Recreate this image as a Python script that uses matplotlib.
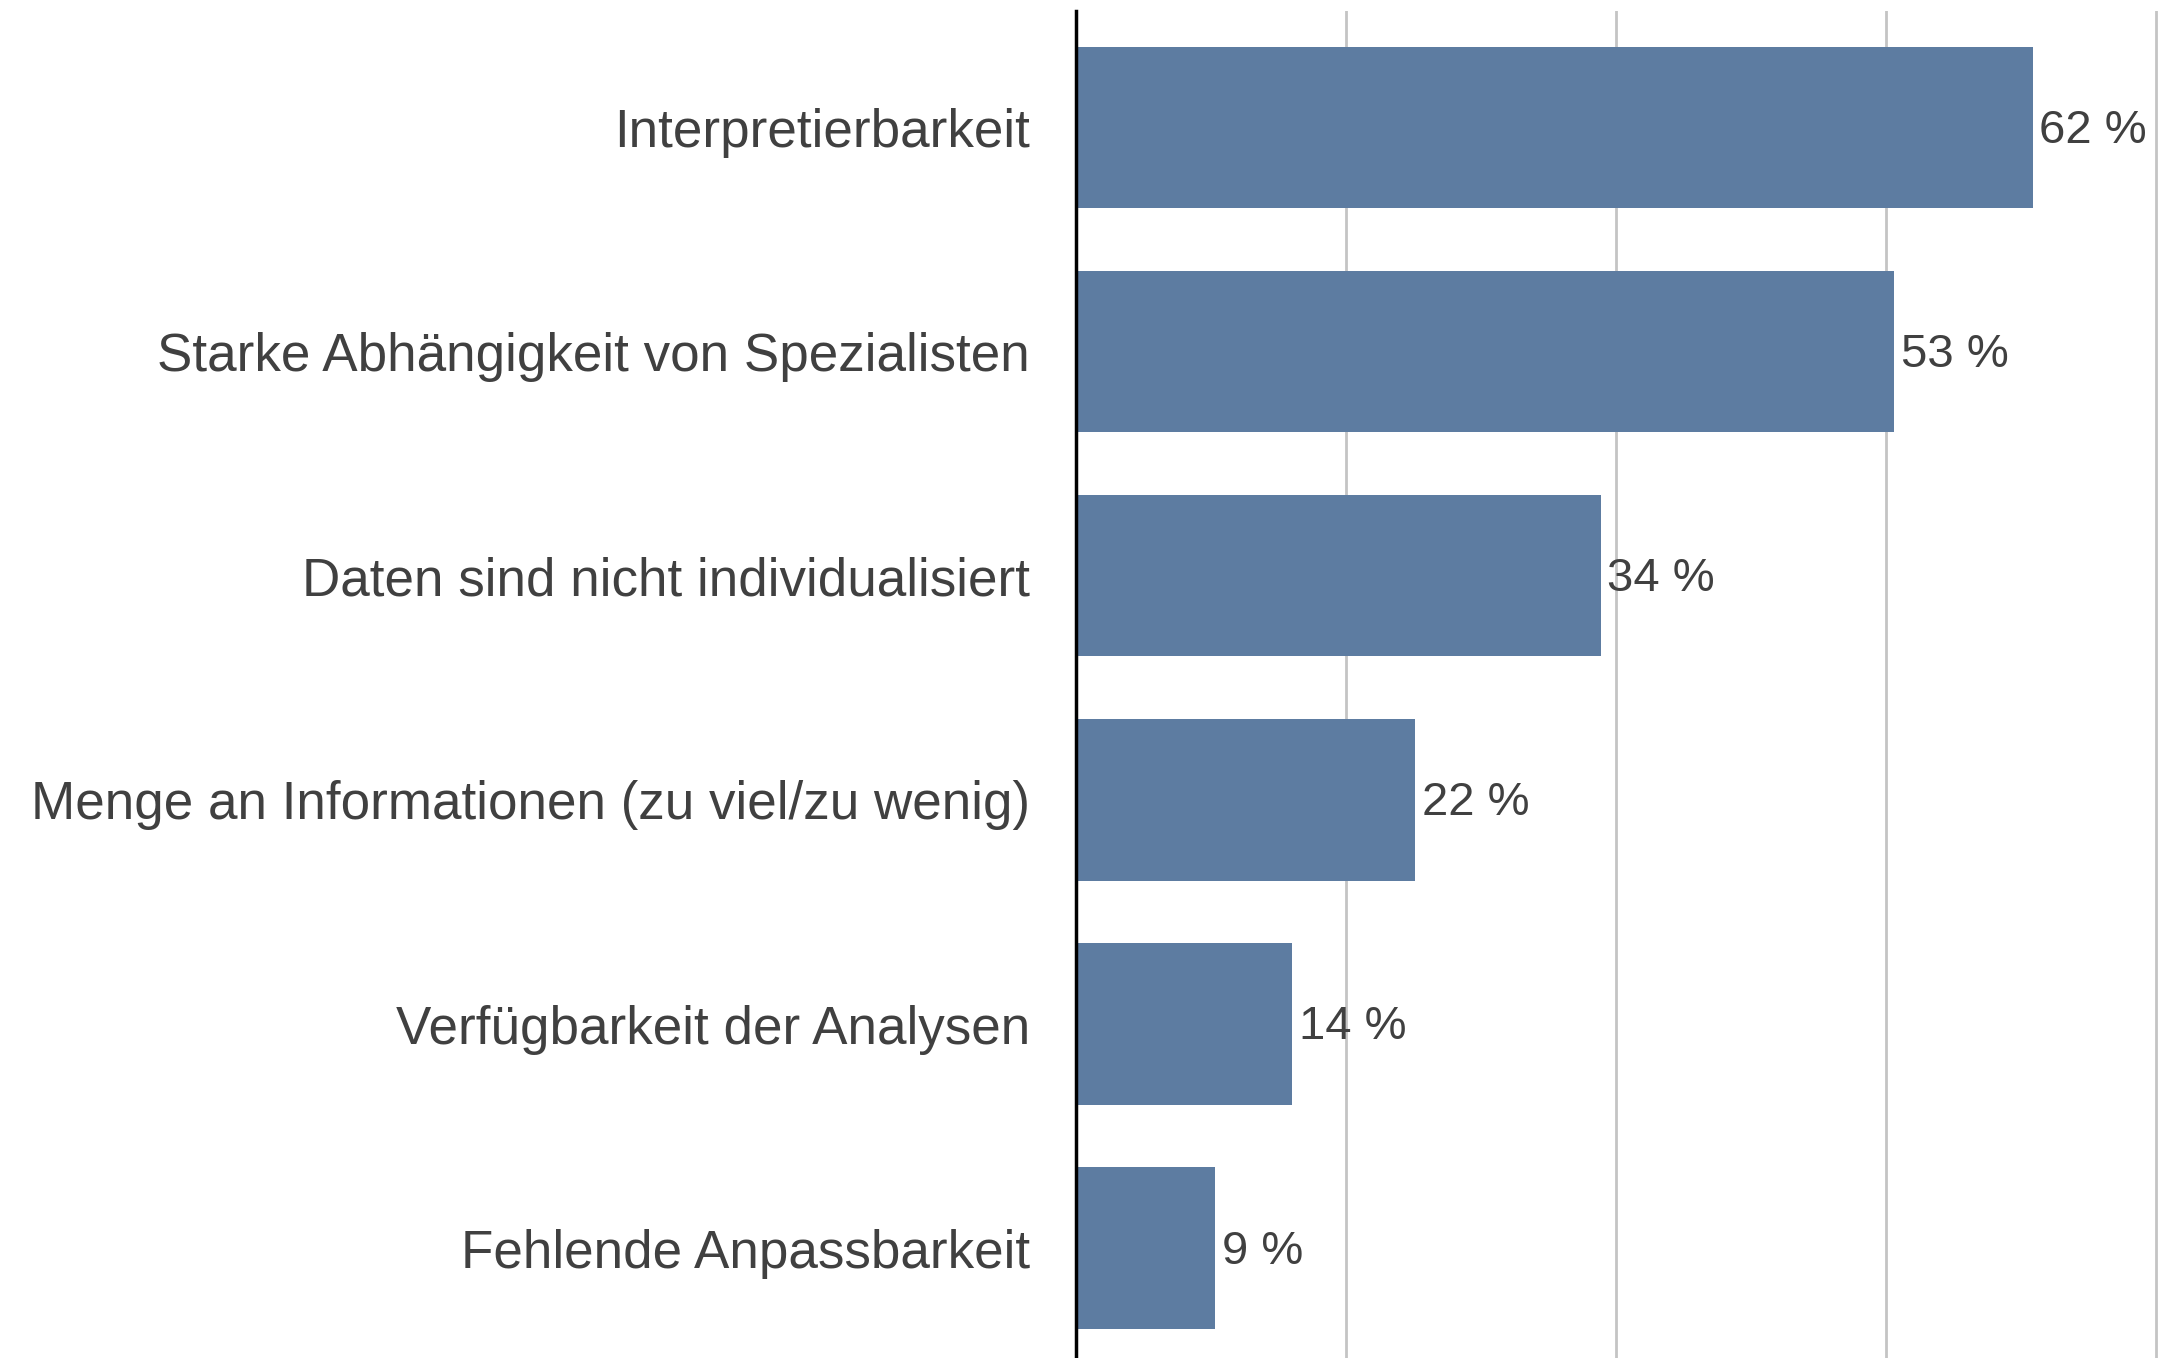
import numpy as np
import matplotlib
matplotlib.use('Agg')
import matplotlib.pyplot as plt

# data, top to bottom
categories = [
    "Interpretierbarkeit",
    "Starke Abhängigkeit von Spezialisten",
    "Daten sind nicht individualisiert",
    "Menge an Informationen (zu viel/zu wenig)",
    "Verfügbarkeit der Analysen",
    "Fehlende Anpassbarkeit",
]
values = [62, 53, 34, 22, 14, 9]
grid_ticks = [17.5, 35, 52.5, 70]

plt.rcParams['font.family'] = ['Liberation Sans', 'DejaVu Sans']
text_color = '#404040'
bar_color = '#5d7ca1'

fig = plt.figure(figsize=(21.59, 13.58), dpi=100)
ax = fig.add_axes([0.4984, 0.0, 0.5016, 0.992])

y = np.arange(len(categories))
ax.barh(y, values, height=0.72, color=bar_color, zorder=3)

# value labels just right of each bar
for yi, v in zip(y, values):
    ax.annotate(f"{v} %", xy=(v, yi), xytext=(5, -2.5), textcoords='offset points',
                va='center', ha='left', fontsize=34, color=text_color, zorder=4)

ax.set_xlim(0, 70.2)
ax.set_ylim(5.49, -0.52)
ax.set_xticks(grid_ticks)
ax.set_xticklabels([])
ax.tick_params(axis='x', length=0)
ax.xaxis.grid(True, color='#c4c4c4', linewidth=2, zorder=0)
ax.set_axisbelow(True)

ax.set_yticks(y)
ax.set_yticklabels(categories, fontsize=38.2, color=text_color)
ax.tick_params(axis='y', length=0, pad=33)

for side in ['top', 'right', 'bottom']:
    ax.spines[side].set_visible(False)
ax.spines['left'].set_color('black')
ax.spines['left'].set_linewidth(2.5)
ax.spines['left'].set_zorder(5)

plt.savefig('out.png', dpi=100)
plt.close()
